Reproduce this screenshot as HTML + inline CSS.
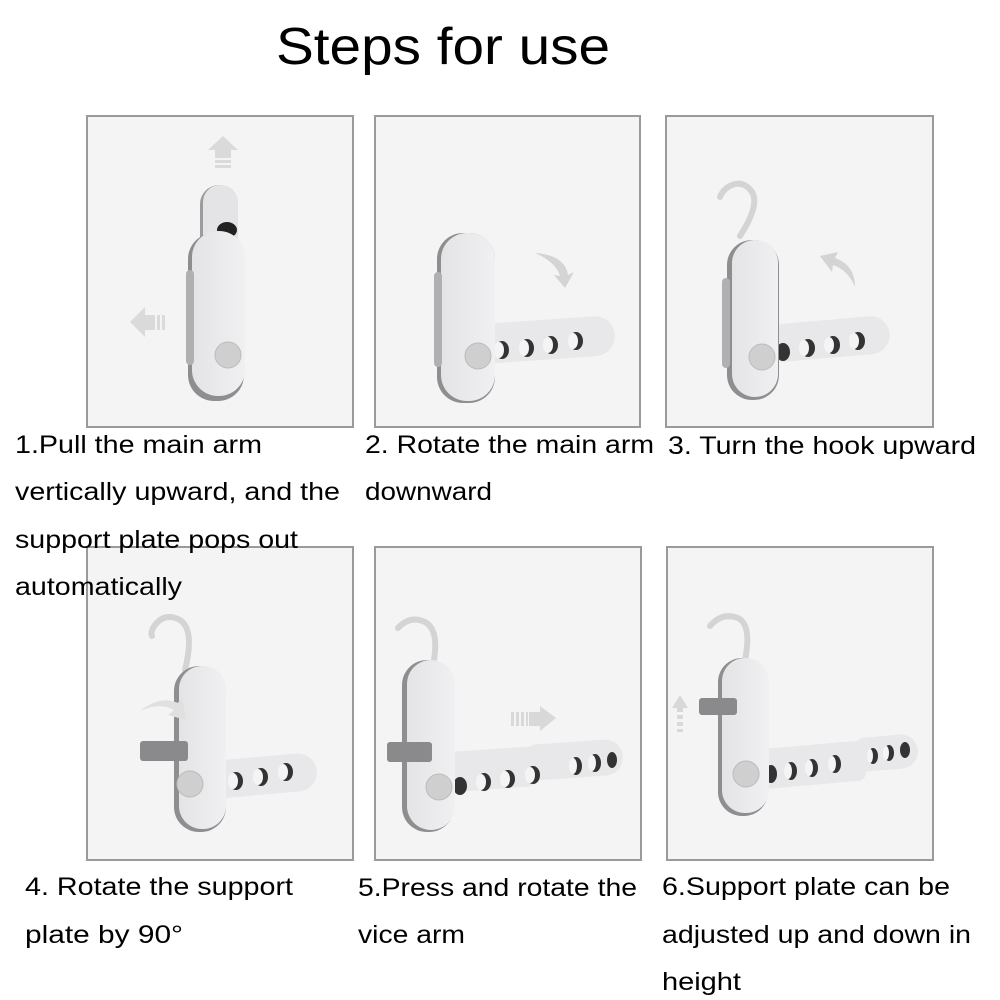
<!DOCTYPE html>
<html><head><meta charset="utf-8"><style>
html,body{margin:0;padding:0;background:#fff;}
svg{display:block}
text{font-family:"Liberation Sans",Arial,sans-serif;fill:#000}
</style></head><body>
<svg width="1000" height="1000" viewBox="0 0 1000 1000" xmlns="http://www.w3.org/2000/svg">
<defs>
<linearGradient id="bd" x1="0" x2="1"><stop offset="0" stop-color="#e4e4e6"/><stop offset="1" stop-color="#f0f0f2"/></linearGradient>
</defs>
<text x="276" y="64" font-size="52" textLength="334" lengthAdjust="spacingAndGlyphs">Steps for use</text>

<!-- panels -->
<g fill="#f4f4f4" stroke="#9a9a9a" stroke-width="2">
<rect x="87" y="116" width="266" height="311"/>
<rect x="375" y="116" width="265" height="311"/>
<rect x="666" y="116" width="267" height="311"/>
<rect x="87" y="547" width="266" height="313"/>
<rect x="375" y="547" width="266" height="313"/>
<rect x="667" y="547" width="266" height="313"/>
</g>

<!-- Panel 1 -->
<g>
<rect x="200" y="185" width="38" height="120" rx="19" fill="#9c9c9e"/>
<rect x="203" y="185" width="35" height="115" rx="17" fill="#e4e4e6"/>
<ellipse cx="227" cy="230" rx="10" ry="8" fill="#222"/>
<rect x="188" y="233" width="56" height="168" rx="26" fill="#8e8e90"/>
<rect x="192" y="231" width="53" height="165" rx="26" fill="url(#bd)"/>
<rect x="186" y="270" width="8" height="95" rx="4" fill="#b0b0b2"/>
<circle cx="228" cy="355" r="13" fill="#cfcfd0" stroke="#bbb"/>
<polygon points="223,136 238,150 231,150 231,158 215,158 215,150 208,150" fill="#dadada"/>
<rect x="215" y="160" width="16" height="3" fill="#dadada"/><rect x="215" y="165" width="16" height="3" fill="#dadada"/>
<polygon points="130,322 145,307 145,315 155,315 155,330 145,330 145,337" fill="#dadada"/>
<rect x="157" y="315" width="3" height="15" fill="#dadada"/><rect x="162" y="315" width="3" height="15" fill="#dadada"/>
</g>

<!-- Panel 2 -->
<g>
<rect x="470" y="320" width="145" height="40" rx="20" fill="#e8e8ea" transform="rotate(-4 540 340)"/>
<g fill="#333"><ellipse cx="502" cy="350" rx="7" ry="9"/><ellipse cx="527" cy="348" rx="7" ry="9"/><ellipse cx="551" cy="345" rx="7" ry="9"/><ellipse cx="576" cy="341" rx="7" ry="9"/></g>
<g fill="#f4f4f4"><ellipse cx="499" cy="350" rx="5" ry="8"/><ellipse cx="524" cy="348" rx="5" ry="8"/><ellipse cx="548" cy="345" rx="5" ry="8"/><ellipse cx="573" cy="341" rx="5" ry="8"/></g>
<rect x="437" y="233" width="58" height="170" rx="26" fill="#8e8e90"/>
<rect x="441" y="233" width="54" height="168" rx="26" fill="url(#bd)"/>
<rect x="434" y="272" width="8" height="95" rx="4" fill="#b0b0b2"/>
<circle cx="478" cy="356" r="13" fill="#cfcfd0" stroke="#bbb"/>
<path d="M535 253 Q565 255 568 275 L574 272 L565 288 L554 275 L560 276 Q556 262 535 253Z" fill="#d4d4d4"/>
</g>

<!-- Panel 3 -->
<g>
<path d="M740 236 Q760 205 752 192 Q745 182 735 184 Q724 187 720 197" fill="none" stroke="#d4d4d6" stroke-width="6" stroke-linecap="round"/>
<rect x="765" y="320" width="125" height="38" rx="19" fill="#e8e8ea" transform="rotate(-5 827 340)"/>
<g fill="#333"><ellipse cx="783" cy="352" rx="7" ry="9"/><ellipse cx="808" cy="348" rx="7" ry="9"/><ellipse cx="833" cy="345" rx="7" ry="9"/><ellipse cx="858" cy="341" rx="7" ry="9"/></g>
<g fill="#f4f4f4"><ellipse cx="804" cy="348" rx="5" ry="8"/><ellipse cx="829" cy="345" rx="5" ry="8"/><ellipse cx="854" cy="341" rx="5" ry="8"/></g>
<rect x="727" y="240" width="52" height="160" rx="25" fill="#8e8e90"/>
<rect x="732" y="240" width="46" height="157" rx="23" fill="url(#bd)"/>
<rect x="722" y="278" width="8" height="90" rx="4" fill="#b0b0b2"/>
<circle cx="762" cy="357" r="13" fill="#cfcfd0" stroke="#bbb"/>
<path d="M855 287 Q855 265 835 258 L838 252 L820 256 L832 272 L833 265 Q848 270 855 287Z" fill="#d4d4d4"/>
</g>

<!-- Panel 4 -->
<g>
<path d="M185 670 Q195 630 180 620 Q165 612 155 625 Q150 632 152 636" fill="none" stroke="#d4d4d6" stroke-width="6" stroke-linecap="round"/>
<rect x="200" y="757" width="117" height="38" rx="19" fill="#e8e8ea" transform="rotate(-5 258 776)"/>
<g fill="#333"><ellipse cx="210" cy="785" rx="7" ry="9"/><ellipse cx="236" cy="781" rx="7" ry="9"/><ellipse cx="261" cy="777" rx="7" ry="9"/><ellipse cx="286" cy="772" rx="7" ry="9"/></g>
<g fill="#f4f4f4"><ellipse cx="233" cy="781" rx="5" ry="8"/><ellipse cx="258" cy="777" rx="5" ry="8"/><ellipse cx="283" cy="772" rx="5" ry="8"/></g>
<rect x="174" y="666" width="52" height="166" rx="25" fill="#8e8e90"/>
<rect x="179" y="666" width="47" height="163" rx="23" fill="url(#bd)"/>
<rect x="140" y="741" width="48" height="20" rx="3" fill="#8a8a8c"/>
<circle cx="190" cy="784" r="13" fill="#cfcfd0" stroke="#bbb"/>
<path d="M140 711 Q160 695 178 703 L182 697 L186 720 L168 715 L174 710 Q160 702 140 711Z" fill="#e0e0e0"/>
</g>

<!-- Panel 5 -->
<g>
<path d="M433 665 Q440 630 425 622 Q410 615 398 628" fill="none" stroke="#d4d4d6" stroke-width="6" stroke-linecap="round"/>
<rect x="425" y="750" width="110" height="40" rx="8" fill="#e8e8ea" transform="rotate(-4 480 770)"/>
<rect x="520" y="742" width="103" height="36" rx="18" fill="#e8e8ea" transform="rotate(-4 570 760)"/>
<g fill="#333"><ellipse cx="460" cy="786" rx="7" ry="9"/><ellipse cx="484" cy="782" rx="7" ry="9"/><ellipse cx="508" cy="779" rx="7" ry="9"/><ellipse cx="533" cy="775" rx="7" ry="9"/><ellipse cx="576" cy="766" rx="6" ry="9"/><ellipse cx="595" cy="763" rx="6" ry="9"/><ellipse cx="612" cy="760" rx="5" ry="8"/></g>
<g fill="#f4f4f4"><ellipse cx="481" cy="782" rx="5" ry="8"/><ellipse cx="505" cy="779" rx="5" ry="8"/><ellipse cx="530" cy="775" rx="5" ry="8"/><ellipse cx="573" cy="766" rx="4" ry="8"/><ellipse cx="592" cy="763" rx="4" ry="8"/></g>
<rect x="402" y="660" width="52" height="172" rx="25" fill="#8e8e90"/>
<rect x="407" y="660" width="48" height="170" rx="24" fill="url(#bd)"/>
<rect x="387" y="742" width="45" height="20" rx="3" fill="#8a8a8c"/>
<circle cx="439" cy="787" r="13" fill="#cfcfd0" stroke="#bbb"/>
<polygon points="556,718 540,706 540,712 529,712 529,726 540,726 540,731" fill="#d8d8d8"/>
<g fill="#d8d8d8"><rect x="511" y="712" width="3" height="14"/><rect x="516" y="712" width="3" height="14"/><rect x="521" y="712" width="3" height="14"/><rect x="526" y="712" width="2" height="14"/></g>
</g>

<!-- Panel 6 -->
<g>
<path d="M745 660 Q752 625 738 618 Q722 612 710 626" fill="none" stroke="#d4d4d6" stroke-width="6" stroke-linecap="round"/>
<rect x="755" y="745" width="110" height="40" rx="8" fill="#e8e8ea" transform="rotate(-5 810 765)"/>
<rect x="850" y="736" width="68" height="34" rx="17" fill="#e8e8ea" transform="rotate(-5 884 753)"/>
<g fill="#333"><ellipse cx="771" cy="774" rx="6" ry="9"/><ellipse cx="791" cy="771" rx="6" ry="9"/><ellipse cx="812" cy="768" rx="6" ry="9"/><ellipse cx="835" cy="764" rx="6" ry="9"/><ellipse cx="873" cy="756" rx="5" ry="8"/><ellipse cx="889" cy="753" rx="5" ry="8"/><ellipse cx="905" cy="750" rx="5" ry="8"/></g>
<g fill="#f4f4f4"><ellipse cx="788" cy="771" rx="4" ry="8"/><ellipse cx="809" cy="768" rx="4" ry="8"/><ellipse cx="832" cy="764" rx="4" ry="8"/><ellipse cx="870" cy="756" rx="3" ry="7"/><ellipse cx="886" cy="753" rx="3" ry="7"/></g>
<rect x="718" y="658" width="50" height="158" rx="24" fill="#8e8e90"/>
<rect x="722" y="658" width="47" height="155" rx="23" fill="url(#bd)"/>
<rect x="699" y="698" width="38" height="17" rx="3" fill="#8a8a8c"/>
<circle cx="746" cy="774" r="13" fill="#cfcfd0" stroke="#bbb"/>
<polygon points="680,695 688,708 683,708 683,712 677,712 677,708 672,708" fill="#d8d8d8"/>
<g fill="#d8d8d8"><rect x="677" y="715" width="6" height="4"/><rect x="677" y="722" width="6" height="4"/><rect x="677" y="729" width="6" height="3"/></g>
</g>

<!-- labels -->
<g font-size="25" lengthAdjust="spacingAndGlyphs">
<text x="15" y="453" textLength="247" lengthAdjust="spacingAndGlyphs">1.Pull the main arm</text>
<text x="15" y="500" textLength="325" lengthAdjust="spacingAndGlyphs">vertically upward, and the</text>
<text x="15" y="548" textLength="283" lengthAdjust="spacingAndGlyphs">support plate pops out</text>
<text x="15" y="595" textLength="167" lengthAdjust="spacingAndGlyphs">automatically</text>
<text x="365" y="453" textLength="289" lengthAdjust="spacingAndGlyphs">2. Rotate the main arm</text>
<text x="365" y="500" textLength="127" lengthAdjust="spacingAndGlyphs">downward</text>
<text x="668" y="454" textLength="308" lengthAdjust="spacingAndGlyphs">3. Turn the hook upward</text>
<text x="25" y="895" textLength="268" lengthAdjust="spacingAndGlyphs">4. Rotate the support</text>
<text x="25" y="943" textLength="158" lengthAdjust="spacingAndGlyphs">plate by 90°</text>
<text x="358" y="896" textLength="279" lengthAdjust="spacingAndGlyphs">5.Press and rotate the</text>
<text x="358" y="943" textLength="107" lengthAdjust="spacingAndGlyphs">vice arm</text>
<text x="662" y="895" textLength="288" lengthAdjust="spacingAndGlyphs">6.Support plate can be</text>
<text x="662" y="943" textLength="309" lengthAdjust="spacingAndGlyphs">adjusted up and down in</text>
<text x="662" y="990" textLength="79" lengthAdjust="spacingAndGlyphs">height</text>
</g>
</svg>
</body></html>
